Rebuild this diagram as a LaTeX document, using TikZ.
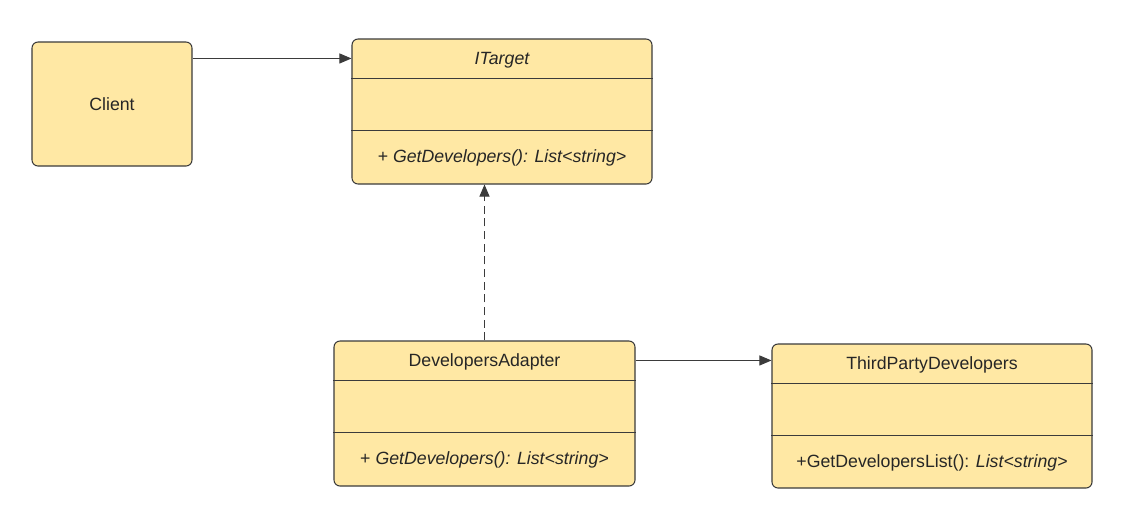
\documentclass[tikz,border=0pt]{standalone}
\usepackage{fontspec}
\setmainfont{Liberation Sans}
\usetikzlibrary{arrows.meta,calc,positioning}
\definecolor{classfill}{HTML}{FFE8A4}
\definecolor{classline}{HTML}{3B3B3B}
\tikzset{classbox/.style={draw=classline, fill=classfill, line width=0.8pt,
         rounded corners=4.5pt, inner sep=0pt},
         label text/.style={font=\fontsize{13.3}{16}\selectfont, text=black!85},
         assoc/.style={draw=classline, line width=0.75pt,
         -{Triangle[length=9pt,width=7.5pt]}},
         realize/.style={assoc, dash pattern=on 6pt off 3.5pt}}

\begin{document}
\begin{tikzpicture}[x=0.75pt,y=-0.75pt]
  \useasboundingbox (0,0) rectangle (1129,526);
  \node[classbox, minimum width=120pt, minimum height=93pt] (client) at (112,104) {};
  \node[label text] at (client) {Client};
  \node[classbox, minimum width=225pt, minimum height=108.75pt] (target) at (502,111.5) {};
  \node[classbox, minimum width=225.75pt, minimum height=108.75pt] (adapter) at (484.5,413.5) {};
  \node[classbox, minimum width=240pt, minimum height=108pt] (third) at (932,416) {};
  % compartments
  \foreach \b in {target,adapter,third} {
    \draw[classline, line width=0.8pt] ($(\b.north west)+(0,40)$) -- ($(\b.north east)+(0,40)$);
    \draw[classline, line width=0.8pt] ($(\b.north west)+(0,92)$) -- ($(\b.north east)+(0,92)$);
  }
  \node[label text, font=\fontsize{13.3}{16}\selectfont\itshape] (target title) at ($(target.north)+(0,21.5)$) {ITarget};
  \node[label text] (target ops) at ($(target.north)+(0,119.5)$) {\itshape + GetDevelopers(): List<string>};
  \node[label text] (adapter title) at ($(adapter.north)+(0,21.5)$) {DevelopersAdapter};
  \node[label text] (adapter ops) at ($(adapter.north)+(0,119.5)$) {+ \textit{GetDevelopers(): List<string>}};
  \node[label text] (third title) at ($(third.north)+(0,21.5)$) {ThirdPartyDevelopers};
  \node[label text] (third ops) at ($(third.north)+(0,119.5)$) {+GetDevelopersList(): \textit{List<string>}};
  % relations
  \coordinate (target in) at ($(target.north west)+(0,20)$);
  \coordinate (third in) at ($(third.north west)+(0,17)$);
  \draw[assoc] (client.east |- target in) -- (target in);
  \draw[realize] (adapter.north) -- (adapter.north |- target.south);
  \draw[assoc] (adapter.east |- third in) -- (third in);
\end{tikzpicture}
\end{document}
